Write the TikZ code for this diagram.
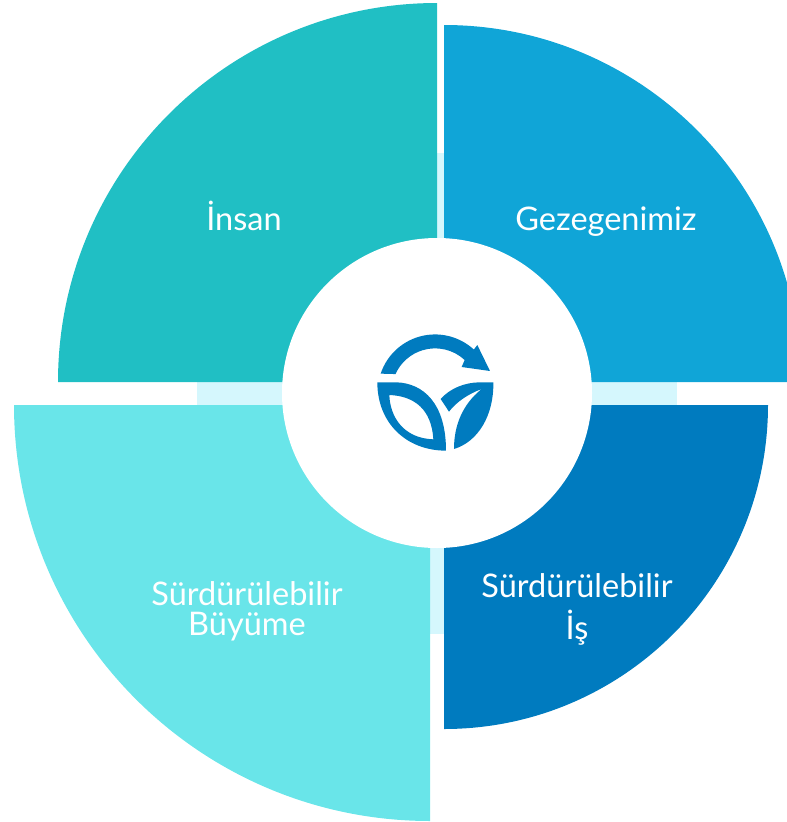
\documentclass[tikz,border=0pt]{standalone}
\usepackage{fontspec}
\setmainfont{Lato}
\usepackage{tikz}

\definecolor{insancolor}{HTML}{20BFC4}
\definecolor{gezegencolor}{HTML}{10A5D7}
\definecolor{iscolor}{HTML}{007BBF}
\definecolor{buyumecolor}{HTML}{69E5E9}
\definecolor{crosscolor}{HTML}{D5F7FD}

\tikzset{
  seglabel/.style={text=white,font=\fontsize{32.5}{32}\selectfont,align=center,inner sep=0pt}
}

\begin{document}
\begin{tikzpicture}[x=1pt,y=-1pt]

\clip (0,0) rectangle (787,822);

\fill [crosscolor] (197,382) rectangle (677,405);
\fill [crosscolor] (430,153) rectangle (444,634);

\fill [insancolor] (437,382) -- (58,382) arc[start angle=180,end angle=270,radius=379] -- cycle;
\fill [gezegencolor] (444,382) -- (444,25) arc[start angle=270,end angle=360,radius=357] -- cycle;
\fill [iscolor] (444,405) -- (768,405) arc[start angle=0,end angle=90,radius=324] -- cycle;
\fill [buyumecolor] (430,405) -- (430,821) arc[start angle=90,end angle=180,radius=416] -- cycle;

\fill [white] (437,393) circle (155);

\node [seglabel] (insan) at (244,216) {İnsan};
\node [seglabel] (gezegenimiz) at (606,222) {Gezegenimiz};
\node [seglabel] (buyume) at (247,611) {Sürdürülebilir\\[-2pt]Büyüme};
\node [seglabel] (is) at (577,609) {Sürdürülebilir\\[10pt]İş};

\begin{scope}[shift={(360,320)},x=0.3333pt,y=-0.3333pt]
% arrow
\fill [iscolor] (62,161) arc[start angle=198.4,end angle=312.6,radius=172]
  -- (352,75) -- (390,153) -- (305,141) -- (314,120)
  arc[start angle=313,end angle=204,radius=130] -- cycle;
% left leaf
\fill [iscolor,even odd rule] (52,187) -- (110,187)
  .. controls (190,190) and (258,250) .. (258,392)
  .. controls (140,392) and (52,310) .. (52,187) -- cycle
  (88,225) .. controls (90,290) and (130,355) .. (220,358)
  .. controls (215,270) and (165,228) .. (88,225) -- cycle;
% right leaf
\fill [iscolor] (242,237) .. controls (270,205) and (315,187) .. (360,187)
  -- (400,187) .. controls (402,285) and (355,365) .. (282,387)
  .. controls (282,320) and (305,255) .. (365,207)
  .. controls (325,222) and (290,245) .. (267,275) -- cycle;
\end{scope}

\end{tikzpicture}
\end{document}
